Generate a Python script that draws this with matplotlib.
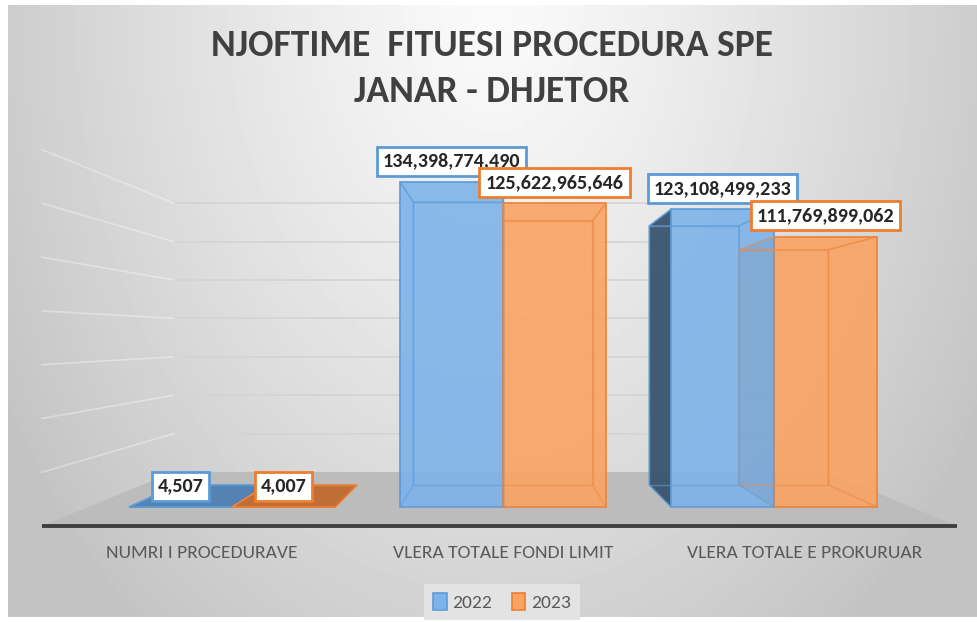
import numpy as np
import matplotlib
matplotlib.use('Agg')
import matplotlib.pyplot as plt
from matplotlib.patches import Polygon, Patch
from matplotlib.transforms import blended_transform_factory

categories = ['NUMRI I PROCEDURAVE', 'VLERA TOTALE FONDI LIMIT', 'VLERA TOTALE E PROKURUAR']
years = ['2022', '2023']
values_2022 = [4507, 134398774490, 123108499233]
values_2023 = [4007, 125622965646, 111769899062]
title_lines = ['NJOFTIME  FITUESI PROCEDURA SPE', 'JANAR - DHJETOR']
grid_step = 20e9
grid_top = 140e9

plt.rcParams['font.family'] = ['Carlito', 'Roboto Condensed', 'Roboto', 'DejaVu Sans']

colors = {
    '2022': dict(front='#7DB3E9', side='#3A536E', top='#4F7FB2', edge='#5B9BD5', inner='#5F9DD8'),
    '2023': dict(front='#FAA363', side='#A9541D', top='#C06A2E', edge='#ED7D31', inner='#EE8A45'),
}

W, H = 978, 622
fig = plt.figure(figsize=(W / 100, H / 100), dpi=100)
fig.patch.set_facecolor('white')

# chart area background: soft radial gradient
bg = fig.add_axes([8 / W, 5 / H, 970 / W, 612 / H])
gx, gy = np.meshgrid(np.linspace(0, 1, 300), np.linspace(1, 0, 200))
r = np.sqrt(((gx - 0.5) / 0.5) ** 2 + ((1 - gy) * 0.9) ** 2)
shade = np.clip(250 - 45 * r ** 1.2, 195, 252) / 255
bg.imshow(shade, cmap='gray', vmin=0, vmax=1, extent=[0, 1, 0, 1], aspect='auto')
bg.axis('off')

# main axes covers the full figure; scale chosen so bars sit on a pseudo-3D floor
vmax = max(values_2022 + values_2023)
s = 325 / vmax            # pixels per unit value
px_cat = 271              # pixels per category
ax = fig.add_axes([0, 0, 1, 1])
ax.set_facecolor('none')
ax.set_xlim(1 - 503 / px_cat, 1 + (W - 503) / px_cat)
ax.set_ylim(-115 / s, (H - 115) / s)
ax.axis('off')

# perspective helpers (vanishing point in data coords)
VPX, VPY = 1.0, 170 / s
T_BAR, T_FRONT, T_WALL = 0.13, -0.112, 0.206
FX0, FX1 = 1 - 414.6 / px_cat, 1 + 408 / px_cat


def proj(x, y, t):
    return (x + t * (VPX - x), y + t * (VPY - y))


# floor
floor = [proj(FX0, 0, T_FRONT), proj(FX1, 0, T_FRONT), proj(FX1, 0, T_WALL), proj(FX0, 0, T_WALL)]
ax.add_patch(Polygon(floor, closed=True, fc='#BCBCBC', ec='none', zorder=1))
fx = [proj(FX0, 0, T_FRONT)[0], proj(FX1, 0, T_FRONT)[0]]
fy = [proj(FX0, 0, T_FRONT)[1]] * 2
ax.plot(fx, fy, color='#3F3F3F', lw=2.8, solid_capstyle='butt', zorder=2)

# wall gridlines
for v in np.arange(grid_step, grid_top + 1, grid_step):
    a, b = proj(FX0, v, T_WALL), proj(FX1, v, T_WALL)
    ax.plot([a[0], b[0]], [a[1], b[1]], color='#D4D4D4', lw=1.2, zorder=1.5)
    c = proj(FX0, v, T_FRONT)
    ax.plot([c[0], a[0]], [c[1], a[1]], color='white', alpha=0.35, lw=1.2, zorder=1.5)

x = np.arange(len(categories))
w = 0.38
bars = {
    '2022': ax.bar(x - w / 2, values_2022, w, color=colors['2022']['front'], alpha=0.9,
                   edgecolor=colors['2022']['edge'], linewidth=1.2, zorder=4),
    '2023': ax.bar(x + w / 2, values_2023, w, color=colors['2023']['front'], alpha=0.9,
                   edgecolor=colors['2023']['edge'], linewidth=1.2, zorder=4),
}

# depth faces derived from each bar
for yr, cont in bars.items():
    c = colors[yr]
    for p in cont:
        xl, xr, h = p.get_x(), p.get_x() + p.get_width(), p.get_height()
        back = [proj(xl, 0, T_BAR), proj(xr, 0, T_BAR), proj(xr, h, T_BAR), proj(xl, h, T_BAR)]
        left = [(xl, 0), (xl, h), proj(xl, h, T_BAR), proj(xl, 0, T_BAR)]
        right = [(xr, 0), (xr, h), proj(xr, h, T_BAR), proj(xr, 0, T_BAR)]
        top = [(xl, h), (xr, h), proj(xr, h, T_BAR), proj(xl, h, T_BAR)]
        faces = [(back, False), (left, xl > VPX), (right, xr < VPX), (top, h < VPY)]
        for pts, visible in faces:
            if visible:
                fc = c['top'] if pts is top else c['side']
                ax.add_patch(Polygon(pts, closed=True, fc=fc, ec=c['edge'], lw=1.0,
                                     alpha=0.95, zorder=3))
            else:
                ax.add_patch(Polygon(pts, closed=True, fc='none', ec=c['inner'], lw=1.0,
                                     alpha=0.6, zorder=4.5))

# value labels
for z, yr in enumerate(years):
    for p in bars[yr]:
        v = p.get_height()
        ax.annotate(f'{int(v):,}', xy=(p.get_x() + p.get_width() / 2, v), xytext=(0, 15),
                    textcoords='offset points', ha='center', va='center',
                    fontsize=14.5, fontweight='bold', color='#262626', zorder=6 + z,
                    bbox=dict(boxstyle='square,pad=0.3', fc='white',
                              ec=colors[yr]['edge'], lw=2))

# category labels along the floor front edge
tr = blended_transform_factory(ax.transData, fig.transFigure)
for i, cat in enumerate(categories):
    ax.text(proj(i, 0, T_FRONT)[0], 1 - 553 / H, cat, transform=tr, ha='center', va='center',
            fontsize=14, color='#595959')

fig.text(0.503, 1 - 45 / H, title_lines[0], ha='center', va='center', fontsize=27,
         fontweight='bold', color='#404040')
fig.text(0.503, 1 - 92 / H, title_lines[1], ha='center', va='center', fontsize=27,
         fontweight='bold', color='#404040')

handles = [Patch(fc=colors[yr]['front'], ec=colors[yr]['edge'], lw=1.2) for yr in years]
leg = fig.legend(handles, years, loc='center', bbox_to_anchor=(502 / W, 1 - 602 / H), ncol=2,
                 frameon=True, fancybox=False, facecolor='#E3E3E3', edgecolor='none',
                 handlelength=0.7, handleheight=1.0, handletextpad=0.3, columnspacing=1.0,
                 fontsize=14, labelcolor='#595959', borderpad=0.45)
leg.get_frame().set_alpha(1)

fig.savefig('out.png', dpi=100)
